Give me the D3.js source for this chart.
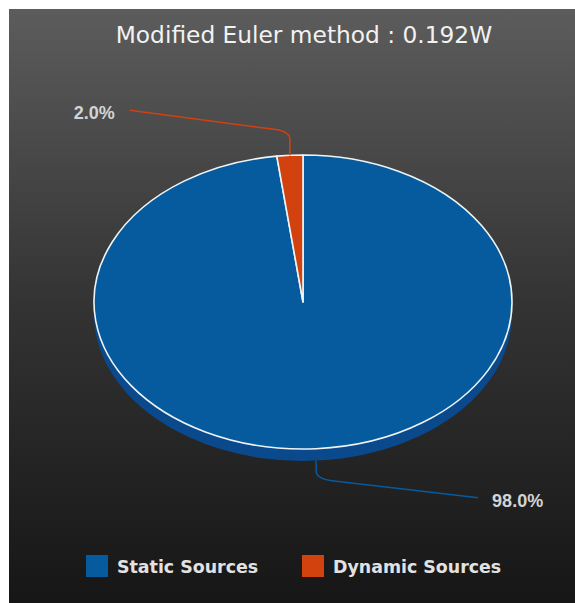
<!DOCTYPE html>
<html>
<head>
<meta charset="utf-8">
<script src="https://cdn.jsdelivr.net/npm/d3@7"></script>
<style>
  html, body { margin: 0; padding: 0; background: #ffffff; }
  svg { display: block; }
</style>
</head>
<body>
<svg id="chart" width="575" height="603"></svg>
<script>
// Power split between the two source types
const titleText = "Modified Euler method : 0.192W";
const categories = ["Static Sources", "Dynamic Sources"];
const values = [98.0, 2.0];
const colors = ["#065a9e", "#d2420f"];
const sideColors = ["#0a4a8c", "#a8340c"];

const W = 575, H = 603;
const svg = d3.select("#chart");

// Panel with vertical gradient
const defs = svg.append("defs");
const grad = defs.append("linearGradient")
  .attr("id", "bg").attr("x1", 0).attr("y1", 0).attr("x2", 0).attr("y2", 1);
grad.append("stop").attr("offset", "0%").attr("stop-color", "#5c5c5c");
grad.append("stop").attr("offset", "50%").attr("stop-color", "#333333");
grad.append("stop").attr("offset", "100%").attr("stop-color", "#161616");

svg.append("rect").attr("x", 9).attr("y", 9).attr("width", W - 9).attr("height", H - 9)
  .attr("fill", "url(#bg)");

// Title
svg.append("text")
  .attr("x", 304).attr("y", 43)
  .attr("text-anchor", "middle")
  .attr("font-family", "DejaVu Sans")
  .attr("font-size", 23.3)
  .attr("fill", "#f2f2f2")
  .text(titleText);

// Tilted pie geometry
const cx = 303, cy = 302, rx = 209, ry = 147, depth = 12;
const pie = d3.pie().sort(null).value(d => d)
  .startAngle(0).endAngle(2 * Math.PI);
const arcs = pie(values);

const px = a => cx + rx * Math.sin(a);
const py = a => cy - ry * Math.cos(a);

// Outer side band (visible on the front half: angles between PI/2 and 3PI/2)
const gSide = svg.append("g");
arcs.forEach((d, i) => {
  const a0 = Math.max(d.startAngle, Math.PI / 2);
  const a1 = Math.min(d.endAngle, 3 * Math.PI / 2);
  if (a1 <= a0) return;
  const large = (a1 - a0) > Math.PI ? 1 : 0;
  const s = `M${px(a0)},${py(a0)} A${rx},${ry} 0 ${large} 1 ${px(a1)},${py(a1)}` +
            ` L${px(a1)},${py(a1) + depth} A${rx},${ry} 0 ${large} 0 ${px(a0)},${py(a0) + depth} Z`;
  gSide.append("path").attr("d", s).attr("fill", sideColors[i]);
});

// Top faces
const gTop = svg.append("g");
arcs.forEach((d, i) => {
  const a0 = d.startAngle, a1 = d.endAngle;
  const large = (a1 - a0) > Math.PI ? 1 : 0;
  const s = `M${cx},${cy} L${px(a0)},${py(a0)} A${rx},${ry} 0 ${large} 1 ${px(a1)},${py(a1)} Z`;
  gTop.append("path").attr("d", s)
    .attr("fill", colors[i])
    .attr("stroke", "#eef4f4").attr("stroke-width", 1.6)
    .attr("stroke-linejoin", "round");
});

// Leader lines and percentage labels
const fmt = d3.format(".1f");
const gLab = svg.append("g");
arcs.forEach((d, i) => {
  const m = (d.startAngle + d.endAngle) / 2;
  const x0 = px(m), y0 = py(m);
  const top = Math.cos(m) > 0;
  const yStart = top ? y0 : y0 + depth;
  const sgn = top ? -1 : 1;
  const yBend = yStart + sgn * (top ? 16 : 10);
  const xEnd = top ? x0 - 160 : x0 + 162;
  const yEnd = top ? yStart - 45 : yStart + 37;
  const s = `M${x0},${yStart} L${x0},${yBend}` +
            ` Q${x0},${yBend + sgn * 8} ${x0 + sgn * 16},${yBend + sgn * 10}` +
            ` L${xEnd},${yEnd}`;
  gLab.append("path").attr("d", s)
    .attr("fill", "none").attr("stroke", colors[i]).attr("stroke-width", 1.5);
  gLab.append("text")
    .attr("x", top ? xEnd - 15 : xEnd + 14)
    .attr("y", yEnd + 9)
    .attr("text-anchor", top ? "end" : "start")
    .attr("font-family", "Liberation Sans, Arial, sans-serif")
    .attr("font-weight", "bold")
    .attr("font-size", 18)
    .attr("fill", "#d4d4d4")
    .text(fmt(d.data) + "%");
});

// Legend
const legendX = [86, 302];
const gLeg = svg.append("g");
categories.forEach((c, i) => {
  gLeg.append("rect")
    .attr("x", legendX[i]).attr("y", 555)
    .attr("width", 22).attr("height", 22)
    .attr("fill", colors[i]);
  gLeg.append("text")
    .attr("x", legendX[i] + 31).attr("y", 573)
    .attr("font-family", "DejaVu Sans")
    .attr("font-weight", "bold")
    .attr("font-size", 17.4)
    .attr("fill", "#e2e2e2")
    .text(c);
});
</script>
</body>
</html>
